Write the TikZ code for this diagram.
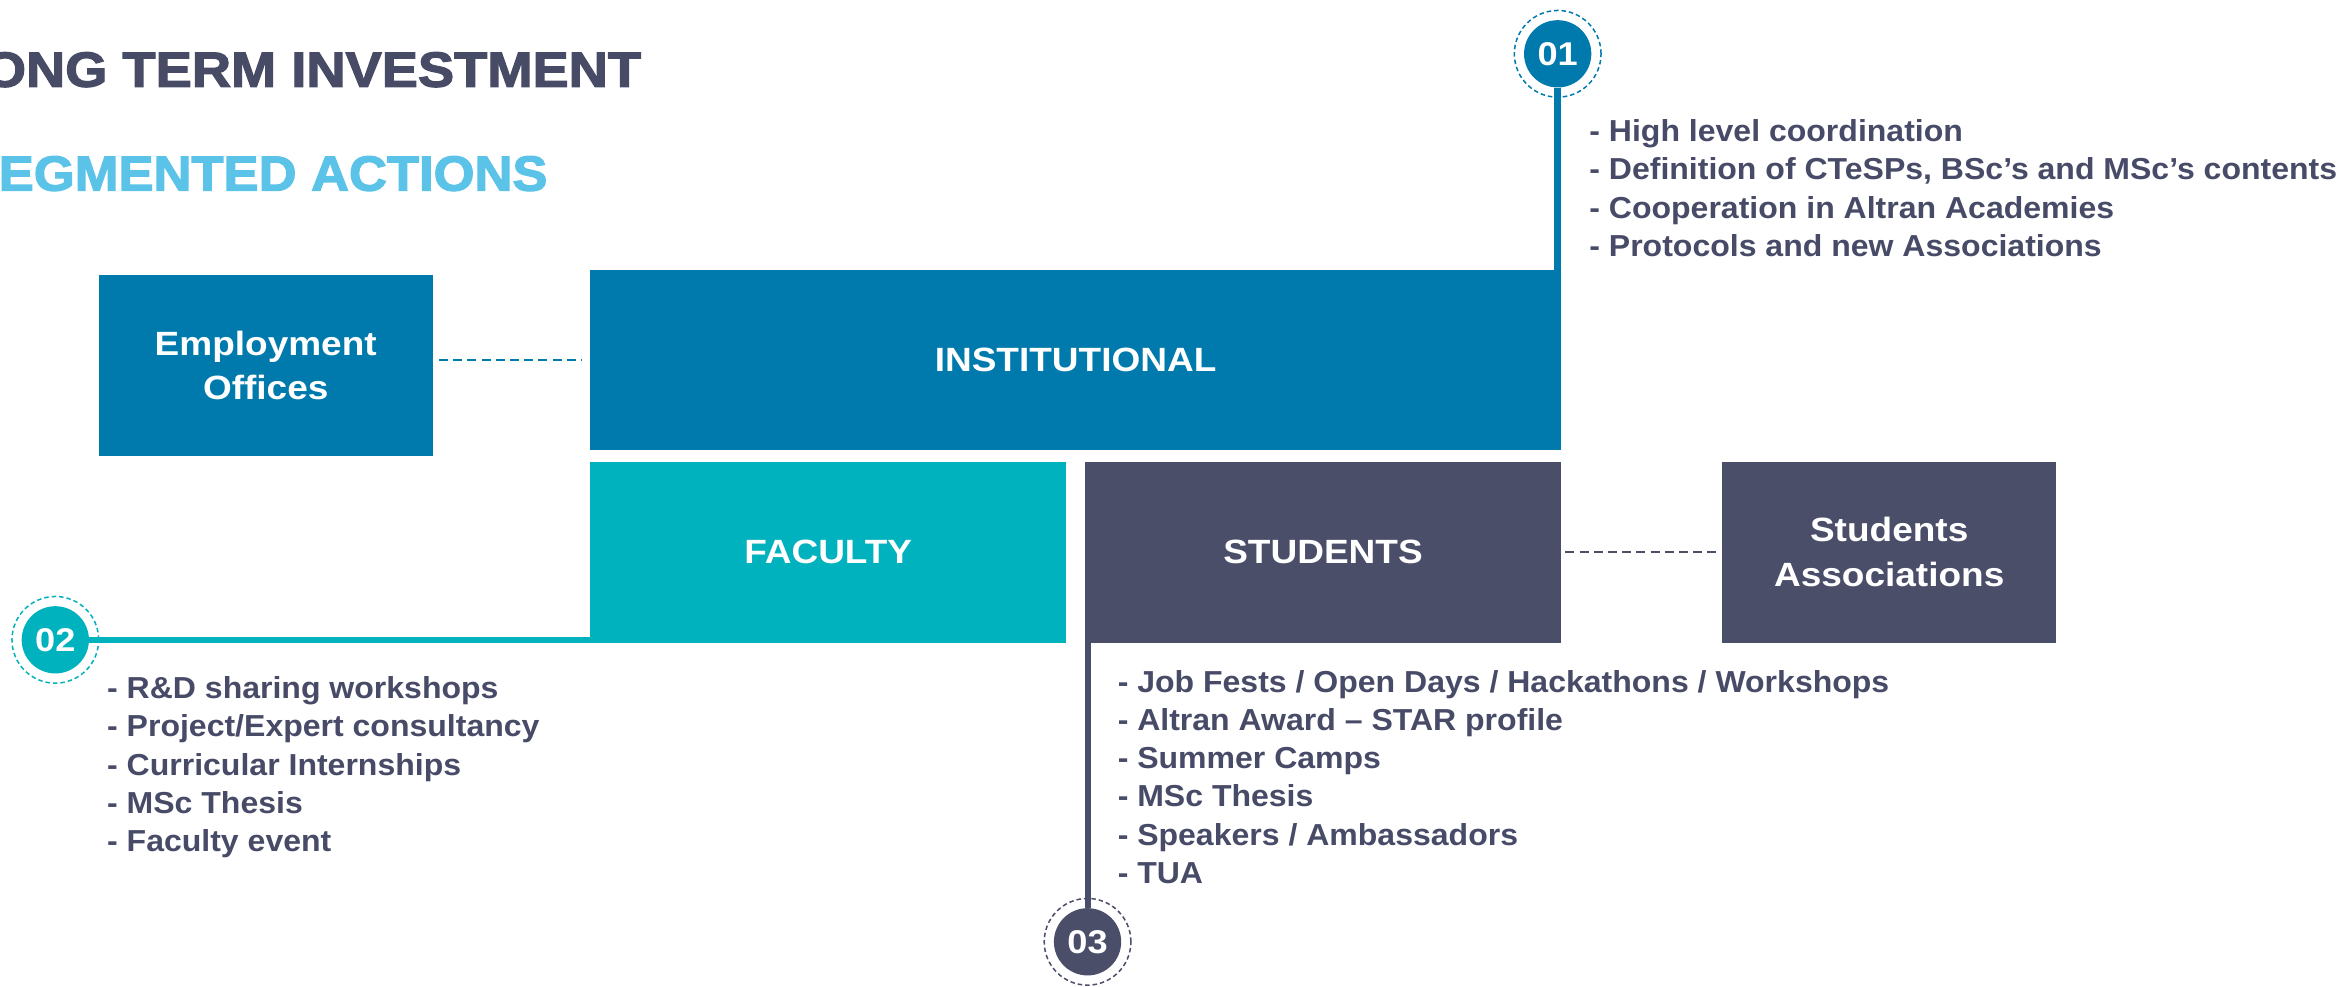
\documentclass[tikz,border=0pt]{standalone}
\usepackage{fontspec}
\setmainfont{Liberation Sans}[FakeStretch=1.1]
\newfontfamily\itemfont{Liberation Sans}[FakeStretch=1.055]
\newfontfamily\titlefont{Liberation Sans}[FakeStretch=1.1, BoldFeatures={FakeBold=2.5}]
\newfontfamily\titlefontb{Liberation Sans}[FakeStretch=1.065, BoldFeatures={FakeBold=2.5}]
\definecolor{inst}{HTML}{007AAD}
\definecolor{fac}{HTML}{00B2BD}
\definecolor{stu}{HTML}{4A4E69}
\definecolor{titledark}{HTML}{474B66}
\definecolor{lightblue}{HTML}{5CC3E8}
\definecolor{txt}{HTML}{474B67}
\tikzset{
  box/.style={rectangle, inner sep=0pt, text=white, align=center,
    font=\bfseries\fontsize{22.5}{30}\selectfont},
  numc/.style={circle, inner sep=0pt, minimum size=45pt, text=white,
    font=\bfseries\fontsize{22}{22}\selectfont},
  ring/.style={dash pattern=on 3pt off 2pt, line width=1pt},
  item/.style={anchor=base west, inner sep=0pt, text=txt,
    font=\itemfont\bfseries\fontsize{20.3}{25.6}\selectfont},
  conn/.style={line width=4pt},
  dashconn/.style={line width=1.3pt, dash pattern=on 6pt off 3.5pt},
  titletext/.style={anchor=base west, inner sep=0pt}
}
\begin{document}
\begin{tikzpicture}[x=1pt,y=-1pt]
\useasboundingbox (0,0) rectangle (1568,660);
\clip (0,0) rectangle (1568,660);
\fill[white] (0,0) rectangle (1568,660);

% titles
\node[titletext, text=titledark, font=\titlefont\bfseries\fontsize{33}{33}\selectfont] (t1) at (-11,58) {ONG TERM INVESTMENT};
\node[titletext, text=lightblue, font=\titlefontb\bfseries\fontsize{33}{33}\selectfont] (t2) at (-1,127.5) {EGMENTED ACTIONS};

% boxes
\node[box, fill=inst, minimum width=223.5pt, minimum height=121pt] (emp) at (177.75,244.5) {Employment\\Offices};
\node[box, fill=inst, minimum width=649pt, minimum height=120.5pt] (ins) at (719.5,241) {INSTITUTIONAL};
\node[box, fill=fac, minimum width=318pt, minimum height=121pt] (fa) at (554,369.5) {FACULTY};
\node[box, fill=stu, minimum width=318pt, minimum height=121pt] (st) at (885,369.5) {STUDENTS};
\node[box, fill=stu, minimum width=223.5pt, minimum height=121pt] (as) at (1263.75,369.5) {Students\\Associations};

% numbered circles
\node[numc, fill=inst] (c1) at (1042,36) {01};
\node[numc, fill=fac] (c2) at (37,428) {02};
\node[numc, fill=stu] (c3) at (727.5,630) {03};
\draw[ring, inst] (c1) circle[radius=29pt];
\draw[ring, fac] (c2) circle[radius=29pt];
\draw[ring, stu] (c3) circle[radius=29pt];

% connectors
\draw[conn, inst, line width=4.4pt] (c1.south) -- (c1 |- ins.north);
\draw[conn, fac, line width=3.8pt] (c2.east) -- (c2 -| fa.west);
\draw[conn, stu] (c3.north) -- (c3 |- st.south);
\draw[dashconn, inst] ([xshift=4pt]emp.east |- ins) -- ([xshift=-6pt]ins.west);
\draw[dashconn, stu] ([xshift=3pt]st.east) -- ([xshift=-2pt]as.west);

% lists
\foreach \t [count=\i] in {{- High level coordination},
  {- Definition of CTeSPs, BSc’s and MSc’s contents},
  {- Cooperation in Altran Academies},
  {- Protocols and new Associations}}
  \node[item] (a\i) at (1063,{94.8+25.6*(\i-1)}) {\t};
\foreach \t [count=\i] in {{- R\&D sharing workshops},
  {- Project/Expert consultancy},
  {- Curricular Internships},
  {- MSc Thesis},
  {- Faculty event}}
  \node[item] (b\i) at (71.5,{467.3+25.6*(\i-1)}) {\t};
\foreach \t [count=\i] in {{- Job Fests / Open Days / Hackathons / Workshops},
  {- Altran Award – STAR profile},
  {- Summer Camps},
  {- MSc Thesis},
  {- Speakers / Ambassadors},
  {- TUA}}
  \node[item] (s\i) at (747.5,{463+25.6*(\i-1)}) {\t};
\end{tikzpicture}
\end{document}
